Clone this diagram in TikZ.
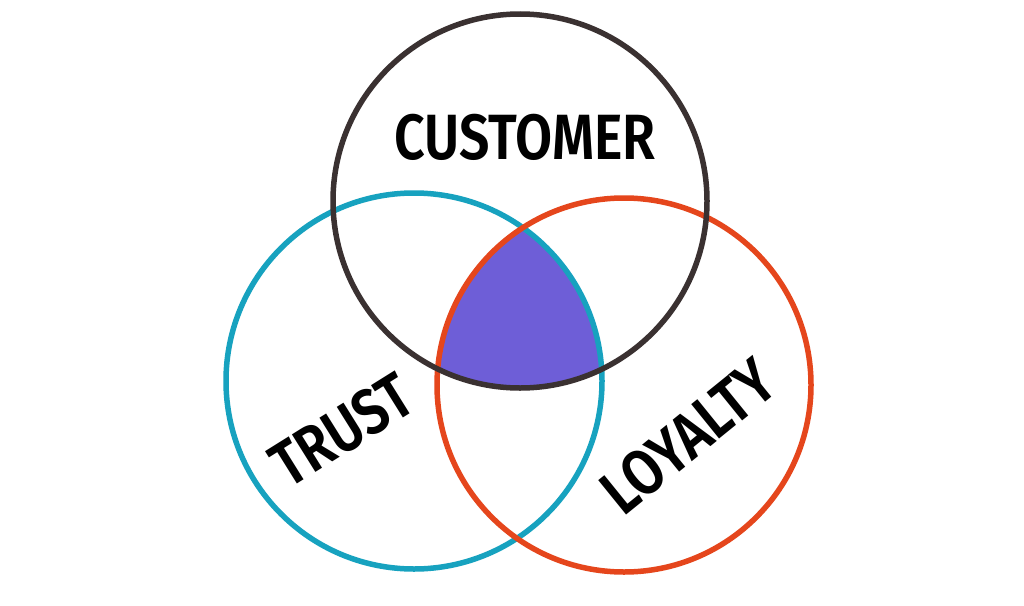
\documentclass[tikz,border=0pt]{standalone}
\usepackage{fontspec}
\setmainfont{Fira Sans}[UprightFont=* SemiBold, FakeStretch=0.84]
\definecolor{inkdark}{HTML}{3A3131}
\definecolor{tealring}{HTML}{17A2BF}
\definecolor{orangering}{HTML}{E5461C}
\definecolor{violetfill}{HTML}{6E5ED7}
\begin{document}
\begin{tikzpicture}[x=1pt,y=-1pt,
  ring/.style={circle,draw,line width=5.5pt,inner sep=0pt,minimum size=#1},
  word/.style={font=\fontsize{64}{64}\selectfont,text=black,inner sep=0pt}]
\useasboundingbox (0,0) rectangle (1024,605);
\fill[white] (0,0) rectangle (1024,605);
% intersection fill
\begin{scope}
  \clip (520,201) circle[radius=187];
  \clip (414,381) circle[radius=188];
  \fill[violetfill] (624,385) circle[radius=187];
\end{scope}
\node[ring=376pt,draw=tealring] (trust) at (414,381) {};
\node[ring=374pt,draw=orangering] (loyalty) at (624,385) {};
\node[ring=374pt,draw=inkdark] (customer) at (520,201) {};
\node[word] (tcustomer) at (525,137) {CUSTOMER};
\node[word,rotate=32] (ttrust) at (342,430) {TRUST};
\node[word,rotate=39] (tloyalty) at (688,436) {LOYALTY};
\end{tikzpicture}
\end{document}
